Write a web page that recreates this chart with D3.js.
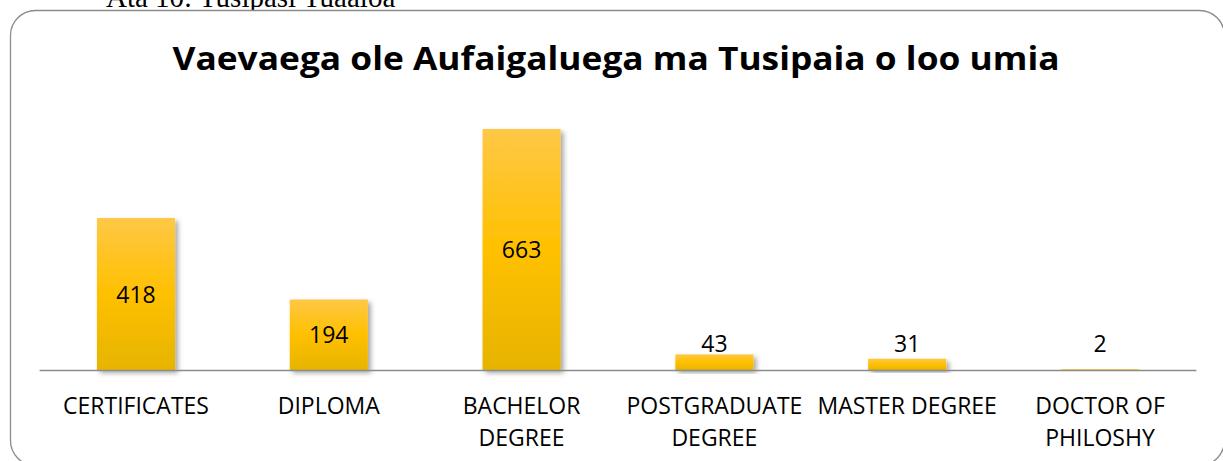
<!DOCTYPE html>
<meta charset="utf-8">
<script src="https://d3js.org/d3.v7.min.js"></script>
<style>
  body { margin: 0; background: #fff; }
</style>
<div id="chart_area"></div>

<script>
    // data
    let categories = ["CERTIFICATES", "DIPLOMA", "BACHELOR DEGREE", "POSTGRADUATE DEGREE", "MASTER DEGREE", "DOCTOR OF PHILOSHY"];
    let counts = [418, 194, 663, 43, 31, 2];
    let chartTitle = "Vaevaega ole Aufaigaluega ma Tusipaia o loo umia";
    let captionAbove = "Ata 10: Tusipasi Tuaaloa";

    let width = 1223, height = 461;
    let svg = d3.select("#chart_area").append("svg")
        .attr("width", width).attr("height", height);

    let defs = svg.append("defs");
    let grad = defs.append("linearGradient").attr("id", "barGrad")
        .attr("x1", 0).attr("y1", 0).attr("x2", 0).attr("y2", 1);
    grad.append("stop").attr("offset", "0%").attr("stop-color", "#fec846");
    grad.append("stop").attr("offset", "50%").attr("stop-color", "#ffc000");
    grad.append("stop").attr("offset", "100%").attr("stop-color", "#e6b400");

    let shadow = defs.append("filter").attr("id", "shadow")
        .attr("x", "-20%").attr("y", "-20%").attr("width", "140%").attr("height", "140%");
    shadow.append("feDropShadow").attr("dx", 3).attr("dy", 3)
        .attr("stdDeviation", 2.5).attr("flood-color", "#000").attr("flood-opacity", 0.35);

    // caption from the page above, mostly cut off
    svg.append("text")
        .attr("x", 106).attr("y", 7)
        .style("font-family", "'Liberation Serif', serif")
        .style("font-size", "29px")
        .attr("fill", "#000")
        .text(captionAbove);

    // chart frame
    svg.append("rect")
        .attr("x", 10.5).attr("y", 10.5)
        .attr("width", 1214).attr("height", 455)
        .attr("rx", 25).attr("ry", 25)
        .attr("fill", "#fff")
        .attr("stroke", "#8c8c8c").attr("stroke-width", 1.3);

    svg.append("text")
        .attr("x", 616).attr("y", 70)
        .attr("text-anchor", "middle")
        .style("font-family", "'Open Sans', sans-serif")
        .style("font-weight", "bold")
        .style("font-size", "33px")
        .attr("textLength", 887)
        .attr("lengthAdjust", "spacingAndGlyphs")
        .text(chartTitle);

    let x = d3.scaleBand()
        .domain(categories)
        .range([39.6, 1196.4])
        .paddingInner(0.595)
        .paddingOuter(0.2975);

    let y = d3.scaleLinear()
        .domain([0, 663])
        .range([370, 129]);

    let rows = categories.map((c, i) => ({cat: c, value: counts[i]}));

    svg.selectAll("rect.bar")
        .data(rows)
        .enter()
        .append("rect")
            .attr("class", "bar")
            .attr("x", d => x(d.cat))
            .attr("y", d => y(d.value))
            .attr("width", x.bandwidth())
            .attr("height", d => y(0) - y(d.value))
            .attr("fill", "url(#barGrad)")
            .attr("filter", "url(#shadow)");

    // axis line
    let axis = svg.append("g").attr("transform", "translate(0," + y(0) + ")")
        .call(d3.axisBottom(x).tickSize(0).tickFormat(""));
    axis.select(".domain").attr("stroke", "#8c8c8c").attr("stroke-width", 1.3)
        .attr("d", "M39.6,0.5H1196.4");

    // value labels: centred in bar, but kept clear of the axis
    svg.selectAll("text.val")
        .data(rows)
        .enter()
        .append("text")
            .attr("class", "val")
            .attr("x", d => x(d.cat) + x.bandwidth() / 2)
            .attr("y", d => Math.min((y(d.value) + y(0)) / 2, y(0) - 27) + 8.5)
            .attr("text-anchor", "middle")
            .style("font-family", "'Open Sans', sans-serif")
            .style("font-size", "23px")
            .attr("fill", "#000")
            .text(d => d.value);

    // category labels, wrapped to the band step
    let maxW = x.step() - 4;
    let catLabels = svg.selectAll("text.cat")
        .data(rows)
        .enter()
        .append("text")
            .attr("class", "cat")
            .attr("text-anchor", "middle")
            .style("font-family", "'Open Sans', sans-serif")
            .style("font-size", "23px")
            .attr("fill", "#000");

    catLabels.each(function (d) {
        let t = d3.select(this);
        let cx = x(d.cat) + x.bandwidth() / 2;
        let words = d.cat.split(" ");
        let lines = [];
        let line = [];
        let probe = t.append("tspan");
        words.forEach(w => {
            line.push(w);
            probe.text(line.join(" "));
            if (probe.node().getComputedTextLength() > maxW && line.length > 1) {
                line.pop();
                lines.push(line.join(" "));
                line = [w];
            }
        });
        lines.push(line.join(" "));
        probe.remove();
        lines.forEach((l, i) => {
            t.append("tspan").attr("x", cx).attr("y", 414 + i * 32).text(l);
        });
    });
</script>
</html>
